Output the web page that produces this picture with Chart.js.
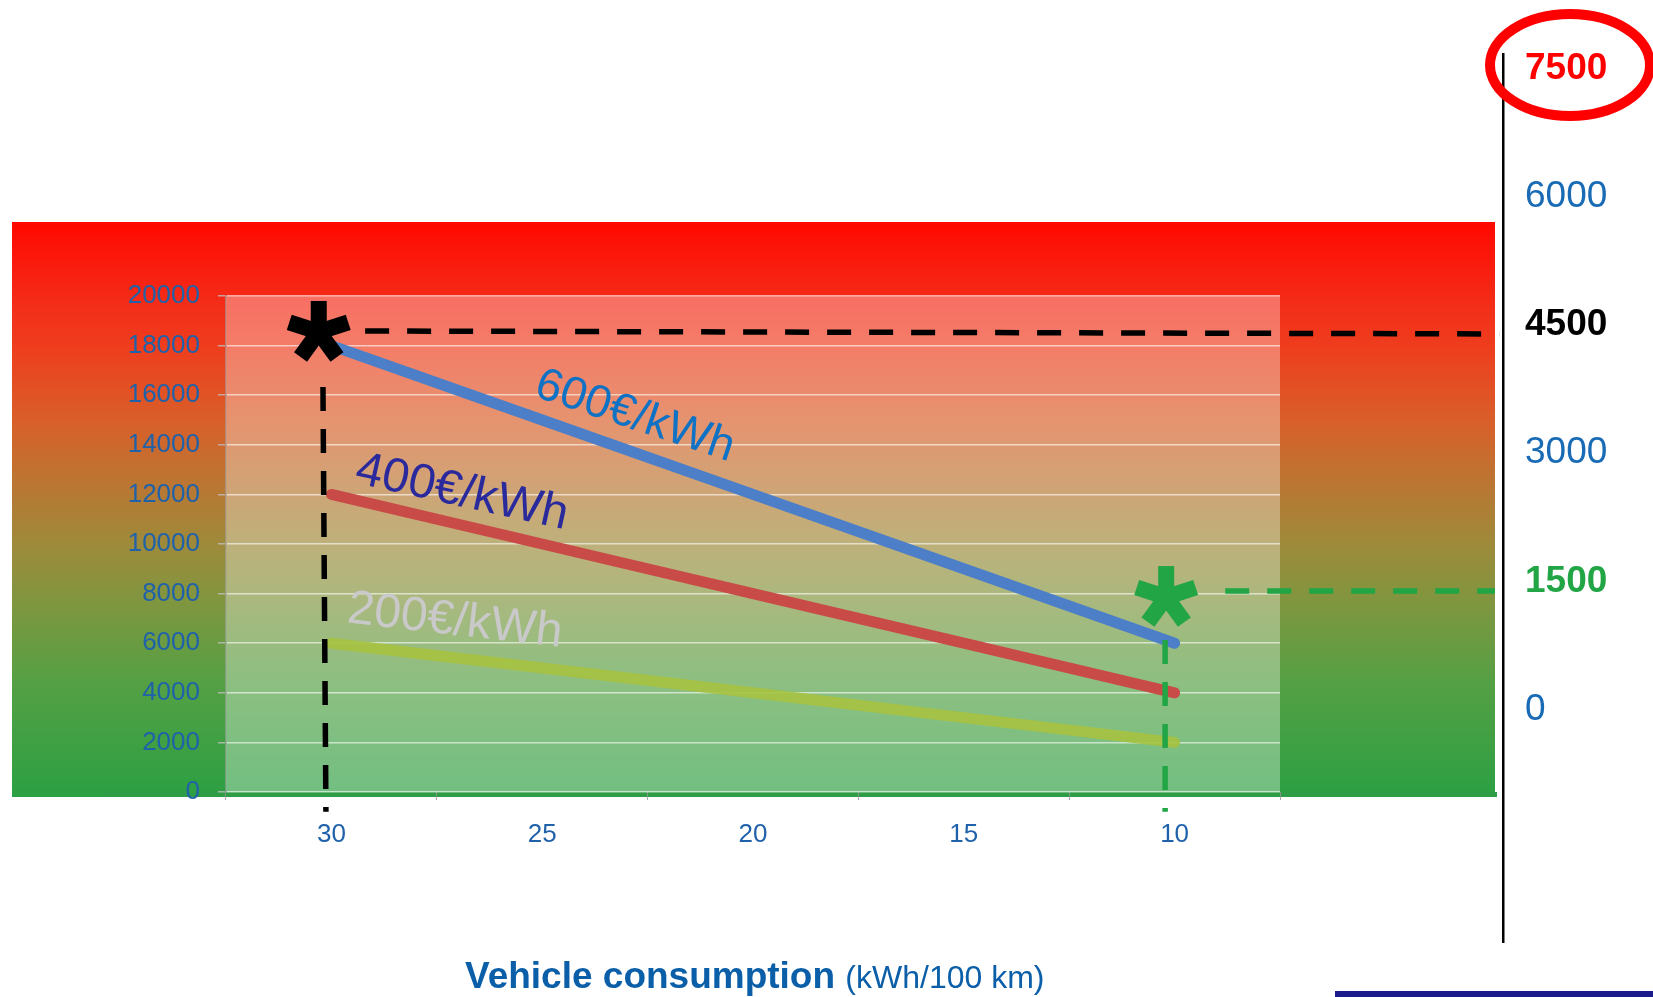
<!DOCTYPE html>
<html>
<head>
<meta charset="utf-8">
<script src="https://cdn.jsdelivr.net/npm/chart.js@4.4.1/dist/chart.umd.min.js"></script>
<style>
  html, body { margin: 0; padding: 0; background: #fff; overflow: hidden; }
  #wrap { position: relative; width: 1653px; height: 997px; }
  #mainChart { position: absolute; left: 0; top: 0; }
  #sideChart { position: absolute; left: 1403px; top: 0; }
</style>
</head>
<body>
<div id="wrap">
  <canvas id="mainChart" width="1653" height="997"></canvas>
  <canvas id="sideChart" width="250" height="997"></canvas>
</div>
<script>
// vehicle consumption (kWh/100 km) and battery cost for the range
const consumption = ["30", "25", "20", "15", "10"];
const cost600 = [18000, 15000, 12000, 9000, 6000];
const cost400 = [12000, 10000, 8000, 6000, 4000];
const cost200 = [6000, 5000, 4000, 3000, 2000];
const seriesNames = ["600€/kWh", "400€/kWh", "200€/kWh"];

const leftTicks = [0, 2000, 4000, 6000, 8000, 10000, 12000, 14000, 16000, 18000, 20000];
const rightTicks = [0, 1500, 3000, 4500, 6000, 7500];

const FONT = "'Liberation Sans', Arial, sans-serif";
const tickBlue = "#1f62aa";

// gradient panel behind the plot
const panelPlugin = {
  id: "panel",
  beforeDraw(chart) {
    const ctx = chart.ctx, a = chart.chartArea;
    const top = 222, bottom = 797;
    const g = ctx.createLinearGradient(0, top, 0, bottom);
    g.addColorStop(0, "#ff0800");
    g.addColorStop(0.14, "#f42c18");
    g.addColorStop(0.22, "#ee3e1e");
    g.addColorStop(0.35, "#d8602a");
    g.addColorStop(0.45, "#bc7532");
    g.addColorStop(0.56, "#9e8a3a");
    g.addColorStop(0.66, "#80963f");
    g.addColorStop(0.8, "#55a044");
    g.addColorStop(1, "#2ba043");
    ctx.save();
    ctx.fillStyle = g;
    ctx.fillRect(12, top, 1483, bottom - top);
    ctx.fillStyle = "rgba(255,255,255,0.33)";
    ctx.fillRect(a.left, a.top, a.right - a.left, a.bottom - a.top);
    // green base line
    ctx.fillStyle = "#2f9c46";
    ctx.fillRect(105, a.bottom, 1392, 5);
    // michelin bar
    ctx.fillStyle = "#1c1c8c";
    ctx.fillRect(1335, 991, 318, 6);
    ctx.restore();
  }
};

function drawStar(ctx, cx, cy, color) {
  ctx.save();
  ctx.strokeStyle = color;
  ctx.lineWidth = 16;
  ctx.lineCap = "butt";
  for (let i = 0; i < 5; i++) {
    const ang = -Math.PI / 2 + i * 2 * Math.PI / 5;
    ctx.beginPath();
    ctx.moveTo(cx, cy);
    ctx.lineTo(cx + 31 * Math.cos(ang), cy + 31 * Math.sin(ang));
    ctx.stroke();
  }
  ctx.restore();
}

function dashed(ctx, x1, y1, x2, y2, color) {
  ctx.save();
  ctx.strokeStyle = color;
  ctx.lineWidth = 5.5;
  ctx.setLineDash([24, 18]);
  ctx.beginPath();
  ctx.moveTo(x1, y1);
  ctx.lineTo(x2, y2);
  ctx.stroke();
  ctx.restore();
}

// stars, guide lines, series labels and axis title
const notesPlugin = {
  id: "notes",
  afterDatasetsDraw(chart) {
    const ctx = chart.ctx, x = chart.scales.x, y = chart.scales.y;
    const px = (i) => x.getPixelForValue(i);
    const py = (v) => y.getPixelForValue(v);

    dashed(ctx, px(0.16), py(18590), px(5.54), py(18470), "#000");
    dashed(ctx, px(-0.04), py(16330), px(-0.026), py(-800), "#000");
    dashed(ctx, px(4.24), py(8100), px(5.52), py(8100), "#22a545");
    dashed(ctx, px(3.955), py(6130), px(3.955), py(-800), "#22a545");

    drawStar(ctx, px(-0.06), py(18550), "#000");
    drawStar(ctx, px(3.96), py(7860), "#22a545");

    const labels = [
      { text: seriesNames[0], i: 0.955, v: 15980, ang: 18.5, size: 46, color: "#0f72c4" },
      { text: seriesNames[1], i: 0.105, v: 12480, ang: 12.5, size: 48, color: "#2a2a9c" },
      { text: seriesNames[2], i: 0.07, v: 6840, ang: 6.5, size: 48, color: "#c9c9c9" }
    ];
    labels.forEach((l) => {
      ctx.save();
      ctx.translate(px(l.i), py(l.v));
      ctx.rotate(l.ang * Math.PI / 180);
      ctx.font = l.size + "px " + FONT;
      ctx.fillStyle = l.color;
      ctx.textBaseline = "alphabetic";
      ctx.textAlign = "left";
      ctx.fillText(l.text, 0, 0);
      ctx.restore();
    });

    ctx.save();
    ctx.fillStyle = "#0b5fa8";
    ctx.textBaseline = "alphabetic";
    ctx.textAlign = "left";
    ctx.font = "bold 37px " + FONT;
    ctx.fillText("Vehicle consumption", 465, 988);
    const w = ctx.measureText("Vehicle consumption ").width;
    ctx.font = "32px " + FONT;
    ctx.fillText("(kWh/100 km)", 465 + w, 988);
    ctx.restore();
  }
};

new Chart(document.getElementById("mainChart"), {
  type: "line",
  data: {
    labels: consumption,
    datasets: [
      { label: seriesNames[2], data: cost200, borderColor: "rgba(166,194,64,0.9)" },
      { label: seriesNames[1], data: cost400, borderColor: "#c94b47" },
      { label: seriesNames[0], data: cost600, borderColor: "#4c7fc7" }
    ]
  },
  options: {
    responsive: false,
    animation: false,
    layout: { padding: { left: 0, right: 373, top: 296, bottom: 105 } },
    plugins: { legend: { display: false }, tooltip: { enabled: false } },
    elements: {
      point: { radius: 0 },
      line: { borderWidth: 11, borderCapStyle: "round", tension: 0 }
    },
    scales: {
      x: {
        type: "category",
        offset: true,
        grid: { offset: true, drawOnChartArea: false, drawTicks: true, tickLength: 8, tickColor: "rgba(150,150,150,0.8)" },
        border: { display: false },
        ticks: { color: tickBlue, font: { family: FONT, size: 26 }, padding: 19, maxRotation: 0 },
        afterFit: (s) => { s.height = 100; }
      },
      y: {
        min: 0,
        max: 20000,
        afterBuildTicks: (s) => { s.ticks = leftTicks.map((v) => ({ value: v })); },
        grid: { color: "rgba(255,255,255,0.6)", lineWidth: 1.5, tickLength: 8, tickColor: "rgba(190,190,190,0.8)" },
        border: { display: true, color: "rgba(160,160,160,0.6)", width: 1.5 },
        ticks: { color: tickBlue, font: { family: FONT, size: 26 }, padding: 18, callback: (v) => String(v) },
        afterFit: (s) => { s.width = 226; }
      }
    }
  },
  plugins: [panelPlugin, notesPlugin]
});

// secondary scale on the right
const rightColors = ["#1a6bb5", "#22a545", "#1a6bb5", "#000000", "#1a6bb5", "#ff0000"];
const rightBold = [false, true, false, true, false, true];

const ringPlugin = {
  id: "ring",
  afterDraw(chart) {
    const ctx = chart.ctx;
    ctx.save();
    ctx.strokeStyle = "#ff0000";
    ctx.lineWidth = 10;
    ctx.beginPath();
    ctx.ellipse(167, 65, 80, 51, 0, 0, Math.PI * 2);
    ctx.stroke();
    ctx.restore();
  }
};

new Chart(document.getElementById("sideChart"), {
  type: "line",
  data: { labels: [""], datasets: [] },
  options: {
    responsive: false,
    animation: false,
    layout: { padding: { left: 0, right: 0, top: 54, bottom: 55 } },
    plugins: { legend: { display: false }, tooltip: { enabled: false } },
    scales: {
      x: { display: false },
      y: {
        position: "right",
        min: -2720,
        max: 7670,
        afterBuildTicks: (s) => { s.ticks = rightTicks.map((v) => ({ value: v })); },
        afterFit: (s) => { s.width = 150; },
        grid: { display: false, drawTicks: false },
        border: { display: true, color: "#000", width: 2.5 },
        ticks: {
          padding: 22,
          callback: (v) => String(v),
          color: (c) => rightColors[c.index],
          font: (c) => ({ family: FONT, size: 37, weight: rightBold[c.index] ? "bold" : "normal" })
        }
      }
    }
  },
  plugins: [ringPlugin]
});
</script>
</body>
</html>
